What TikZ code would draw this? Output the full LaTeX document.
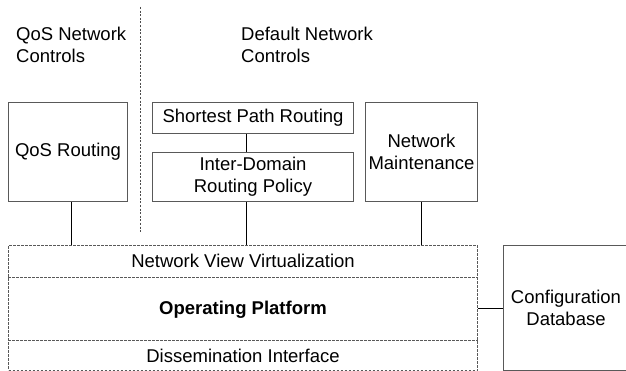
\documentclass[tikz,border=0pt]{standalone}
\usepackage{fontspec}
\setmainfont{Liberation Sans}
\begin{document}
\begin{tikzpicture}[x=1pt,y=1pt,
  every node/.style={font=\fontsize{18.5}{22.2}\selectfont, inner sep=0pt},
  box/.style={draw=black!65, line width=1pt, rectangle, align=center, anchor=north west},
  link/.style={draw=black, line width=1pt},
  partline/.style={draw=black!65, line width=1pt, dash pattern=on 2.6pt off 1.4pt},
  divider/.style={draw=black!70, line width=1pt, dash pattern=on 2pt off 1.6pt},
  heading/.style={align=left, anchor=base west}]
  \clip (0,0) rectangle (626,-371);

  % column headings (anchored on the baseline of their last line) and the divider
  \node[heading] (hq) at (16,-62.5) {QoS Network\\Controls};
  \node[heading] (hd) at (241,-62.5) {Default Network\\Controls};
  \coordinate (divtop) at (140,-7);
  \coordinate (divbot) at (140,-233);
  \draw[divider] (divtop) -- (divbot);

  % control modules
  \node[box, minimum width=119, minimum height=99] (qos) at (8,-102) {QoS Routing};
  \node[box, minimum width=201, minimum height=31] (spr) at (152,-102) {Shortest Path Routing};
  \node[box, minimum width=201, minimum height=49] (idr) at (152,-152) {Inter-Domain\\Routing Policy};
  \node[box, minimum width=112, minimum height=99] (nm) at (365,-102) {Network\\Maintenance};

  % operating platform with its three layers
  \node[partline, rectangle, minimum width=469, minimum height=125, anchor=north west] (plat) at (8,-245) {};
  \draw[partline] ([yshift=-32pt]plat.north west) -- ([yshift=-32pt]plat.north east);
  \draw[partline] ([yshift=31pt]plat.south west) -- ([yshift=31pt]plat.south east);
  \node (nvv) at ([yshift=-16pt]plat.north) {Network View Virtualization};
  \node[font=\fontsize{18.5}{22.2}\selectfont\bfseries] (op) at ([yshift=-1.5pt]plat.center) {Operating Platform};
  \node (dis) at ([yshift=15.5pt]plat.south) {Dissemination Interface};

  % configuration database
  \node[box, minimum width=125, minimum height=125] (cfg) at (503,-245) {Configuration\\Database};

  % connectors
  \draw[link] ([xshift=3.5pt]qos.south) -- ([xshift=3.5pt]qos.south |- plat.north);
  \draw[link] ([xshift=-6.5pt]spr.south) -- ([xshift=-6.5pt]idr.north);
  \draw[link] ([xshift=-6.5pt]idr.south) -- ([xshift=-6.5pt]idr.south |- plat.north);
  \draw[link] (nm.south) -- (nm.south |- plat.north);
  \draw[link] (plat.east) -- (plat.east -| cfg.west);
\end{tikzpicture}
\end{document}
